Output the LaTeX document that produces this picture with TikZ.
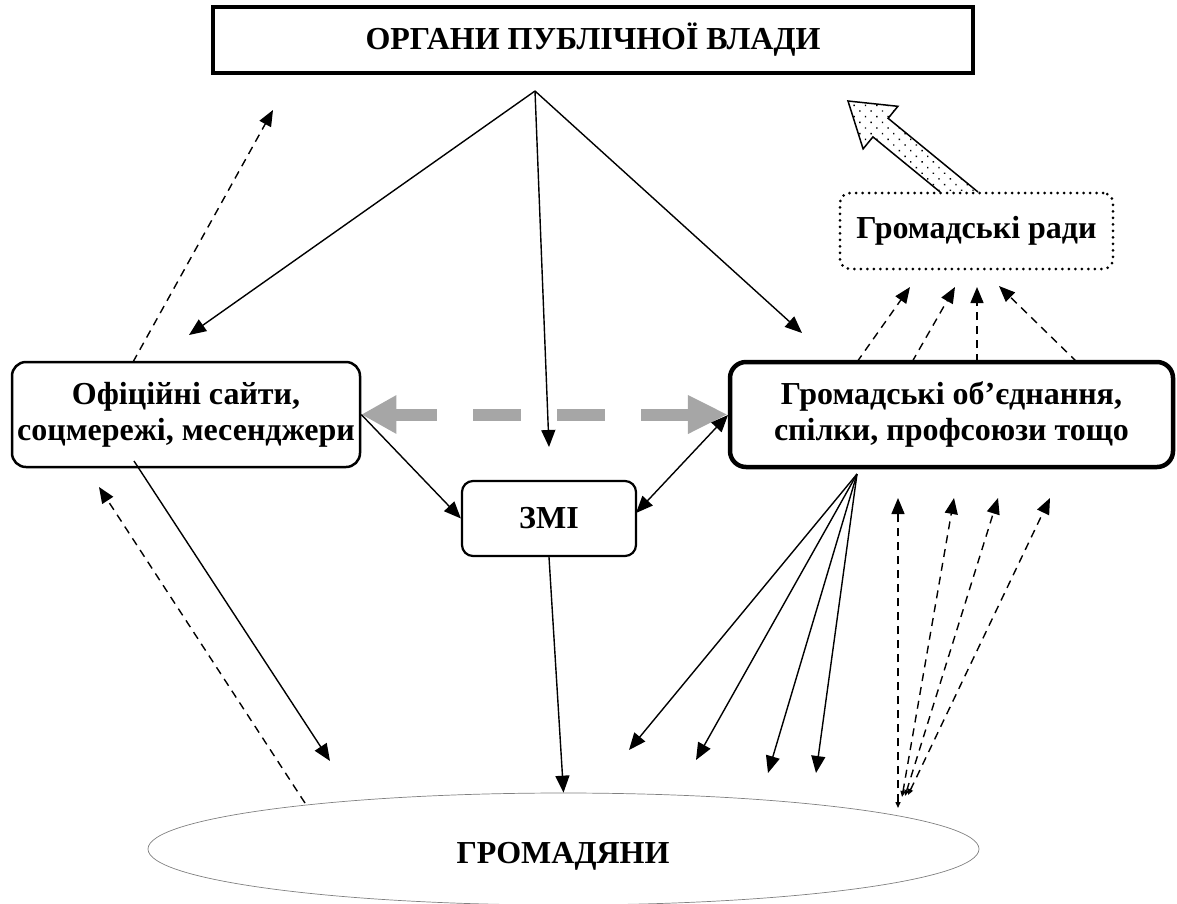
\documentclass[tikz,border=0pt]{standalone}
\usepackage{fontspec}
\setmainfont{Liberation Serif}
\usetikzlibrary{arrows.meta,shapes.geometric,patterns.meta}
\definecolor{arrgray}{RGB}{166,166,166}
\begin{document}
\begin{tikzpicture}[x=1pt,y=-1pt,
  lbl/.style={font=\fontsize{32}{36}\selectfont\bfseries, align=center, inner sep=0pt},
  boxbase/.style={draw, lbl, inner sep=0pt},
  sarrow/.style={draw, line width=1.4pt, -{Triangle[length=17pt,width=14pt]}},
  sarrowboth/.style={draw, line width=1.4pt, {Triangle[length=17pt,width=14pt]}-{Triangle[length=17pt,width=14pt]}},
  darrow/.style={draw, line width=1.4pt, dash pattern=on 8pt off 6pt, -{Triangle[length=16pt,width=13pt]}},
  fanarrow/.style={draw, line width=1.4pt, dash pattern=on 8pt off 6pt, {Triangle[length=6pt,width=5pt]}-{Triangle[length=16pt,width=13pt]}},
  grayarrow/.style={draw=arrgray, line width=12pt, dash pattern=on 48pt off 36pt, dash phase=5pt,
     {Triangle[length=35pt,width=36pt]}-{Triangle[length=40pt,width=36pt]}}
]
\useasboundingbox (0,0) rectangle (1177,903);

% boxes
\node[boxbase, line width=4pt, minimum width=760pt, minimum height=66pt] (top) at (593,40) {ОРГАНИ ПУБЛІЧНОЇ ВЛАДИ};
\node[boxbase, line width=2.5pt, rounded corners=14pt, minimum width=348pt, minimum height=105pt] (left) at (186,414.5) {Офіційні сайти,\\соцмережі, месенджери};
\node[boxbase, line width=4.5pt, rounded corners=16pt, minimum width=443pt, minimum height=105pt] (right) at (951.5,414.5) {Громадські об’єднання,\\спілки, профсоюзи тощо};
\node[boxbase, line width=2.2pt, rounded corners=11pt, minimum width=174pt, minimum height=75pt] (zmi) at (549,518.5) {ЗМІ};
\node[boxbase, line width=3pt, dash pattern=on 0pt off 6.5pt, line cap=round, rounded corners=10pt, minimum width=273pt, minimum height=76pt] (rady) at (976.5,231) {Громадські ради};
\node[ellipse, draw=gray, line width=0.7pt, minimum width=831pt, minimum height=112pt, inner sep=0pt] (cit) at (563.5,849) {};
\node[lbl] (citlbl) at (563,856) {ГРОМАДЯНИ};

% coordinates
\coordinate (apex) at (535,91);
\coordinate (tipL) at (189,335);
\coordinate (tipZ) at (549,447);
\coordinate (tipR) at (802,333);
\coordinate (lbStart) at (134,461);
\coordinate (lbTip) at (330,761);
\coordinate (citL) at (305,803);
\coordinate (lbDashTip) at (99,487);
\coordinate (lbTop) at (133,362);
\coordinate (topDashTip) at (273,110);
\coordinate (zmiEast) at (636,513);
\coordinate (rbWest) at (728,415);

% arrows from authority
\path[sarrow] (apex) -- (tipL);
\path[sarrow] (apex) -- (tipZ);
\path[sarrow] (apex) -- (tipR);

% gray double arrow
\path[grayarrow] (left.east) -- (right.west);

% to/from ZMI
\path[sarrow] (left.east) -- (zmi.west);
\path[sarrowboth] (rbWest) -- (zmiEast);
\path[sarrow] (zmi.south) -- (cit.north);

% left side
\path[sarrow] (lbStart) -- (lbTip);
\path[darrow] (citL) -- (lbDashTip);
\path[darrow] (lbTop) -- (topDashTip);

% right box to rady
\coordinate (ra1) at (857,362); \coordinate (rt1) at (910,287);
\coordinate (ra2) at (912,362); \coordinate (rt2) at (955,287);
\coordinate (ra3) at (977,362); \coordinate (rt3) at (977,287);
\coordinate (ra4) at (1077,362); \coordinate (rt4) at (999,286);
\foreach \i in {1,2,3,4} {\path[darrow] (ra\i) -- (rt\i);}

% fan of solid arrows to citizens
\coordinate (fanO) at (857,474);
\coordinate (ft1) at (629,750);
\coordinate (ft2) at (696,760);
\coordinate (ft3) at (768,773);
\coordinate (ft4) at (816,773);
\foreach \i in {1,2,3,4} {\path[sarrow] (fanO) -- (ft\i);}

% fan of dashed arrows from citizens
\coordinate (fb1) at (898,808); \coordinate (fu1) at (898,498);
\coordinate (fb2) at (902,797); \coordinate (fu2) at (954,498);
\coordinate (fb3) at (905,796); \coordinate (fu3) at (998,498);
\coordinate (fb4) at (908,795); \coordinate (fu4) at (1050,498);
\foreach \i in {1,2,3,4} {\path[fanarrow] (fb\i) -- (fu\i);}

% big dotted hollow arrow from rady
\fill[pattern={Dots[distance=8pt,radius=1pt,angle=45]}] (848,101)--(897.9,106.3)--(888.1,118.3)--(978,192)--(940.1,192)--(872.9,136.9)--(863.1,148.9)--cycle;
\draw[line width=1.5pt, line join=miter] (978,192)--(888.1,118.3)--(897.9,106.3)--(848,101)--(863.1,148.9)--(872.9,136.9)--(940.1,192);
\end{tikzpicture}
\end{document}
